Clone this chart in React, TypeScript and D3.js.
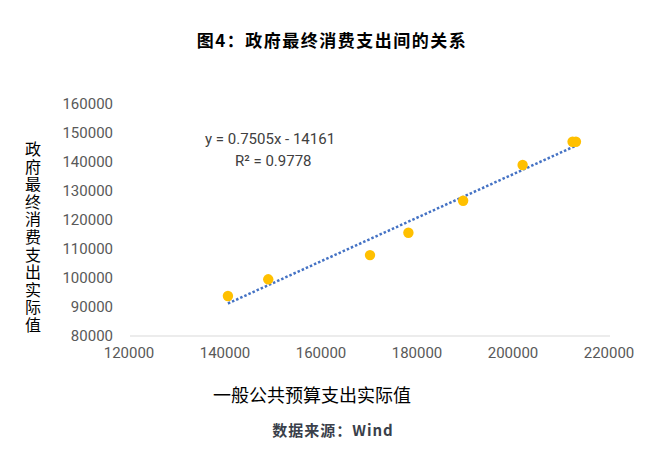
import React from "react";
import * as d3 from "d3";

const title = "图4：政府最终消费支出间的关系";
const xAxisTitle = "一般公共预算支出实际值";
const yAxisTitle = "政府最终消费支出实际值";
const sourceText = "数据来源：Wind";
const equationText = "y = 0.7505x - 14161";
const r2Text = "R² = 0.9778";

const budgetSpending = [140400, 148800, 170000, 178000, 189400, 201800, 212200, 212900];
const consumption = [93800, 99550, 107900, 115600, 126650, 138950, 147000, 147000];
const trendSlope = 0.7505;
const trendIntercept = -14161;

const xTicks = [120000, 140000, 160000, 180000, 200000, 220000];
const yTicks = [80000, 90000, 100000, 110000, 120000, 130000, 140000, 150000, 160000];

export default function App() {
  const W = 663;
  const H = 450;
  const x = d3.scaleLinear().domain([120000, 220000]).range([130, 610]);
  const y = d3.scaleLinear().domain([80000, 160000]).range([336, 104]);
  const xMin = d3.min(budgetSpending)!;
  const xMax = d3.max(budgetSpending)!;
  const trend = d3.line<number>()
    .x((d) => x(d))
    .y((d) => y(trendSlope * d + trendIntercept));
  const tickFont = "Roboto, 'Liberation Sans', Arial, sans-serif";
  const cjk = "'Noto Sans CJK SC', sans-serif";
  return (
    <svg width={W} height={H} style={{ position: "absolute", left: 0, top: 0, background: "#fff" }}>
      <text x={332} y={47} textAnchor="middle" fontFamily={cjk} fontWeight="bold" fontSize={17} letterSpacing={1.5} fill="#000">
        {title}
      </text>
      {yTicks.map((t) => (
        <text key={t} x={113} y={y(t)} dy="0.35em" textAnchor="end" fontFamily={tickFont} fontSize={15} fill="#595959">
          {t}
        </text>
      ))}
      {xTicks.map((t) => (
        <text key={t} x={x(t) - 1} y={358} textAnchor="middle" fontFamily={tickFont} fontSize={15} fill="#595959">
          {t}
        </text>
      ))}
      <line x1={x(120000)} x2={x(220000)} y1={y(80000)} y2={y(80000)} stroke="#D9D9D9" strokeWidth={1} />
      <path d={trend([xMin, xMax]) || ""} fill="none" stroke="#4472C4" strokeWidth={2.5} strokeDasharray="2.5 2" />
      {budgetSpending.map((v, i) => (
        <circle key={i} cx={x(v)} cy={y(consumption[i])} r={5.2} fill="#FFC000" />
      ))}
      <text x={205} y={144} fontFamily={tickFont} fontSize={15} fill="#404040">{equationText}</text>
      <text x={235} y={166} fontFamily={tickFont} fontSize={15} fill="#404040">{r2Text}</text>
      <text x={33} y={141} style={{ writingMode: "vertical-rl" }} fontFamily={cjk} fontSize={16} letterSpacing={1.6} fill="#000">
        {yAxisTitle}
      </text>
      <text x={312} y={402} textAnchor="middle" fontFamily={cjk} fontSize={18} fill="#000">
        {xAxisTitle}
      </text>
      <text x={333} y={436} textAnchor="middle" fontFamily={cjk} fontWeight="bold" fontSize={15} letterSpacing={1} fill="#3a3f4a">
        {sourceText}
      </text>
    </svg>
  );
}
